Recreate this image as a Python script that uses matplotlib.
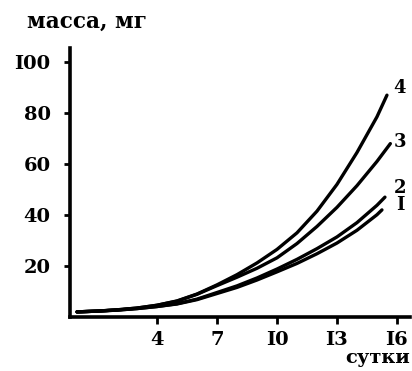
import matplotlib
matplotlib.use("Agg")
import matplotlib.pyplot as plt

days = [0, 1, 2, 3, 4, 5, 6, 7, 8, 9, 10, 11, 12, 13, 14, 15]
c4 = [2, 2.3, 2.8, 3.5, 4.6, 6.3, 9.0, 12.6, 16.6, 21.2, 26.5, 33, 41.5, 52, 64.5, 78.5]
c3 = [2, 2.3, 2.8, 3.5, 4.6, 6.2, 8.9, 12.3, 15.6, 19.1, 23.2, 28.8, 35.5, 43, 51.5, 61]
c2 = [2, 2.3, 2.7, 3.3, 4.1, 5.2, 7.0, 9.6, 12.2, 15.3, 18.8, 22.6, 26.8, 31.4, 37.0, 43.8]
c1 = [2, 2.3, 2.7, 3.3, 4.1, 5.1, 6.8, 9.2, 11.6, 14.5, 17.7, 21, 24.8, 29.0, 34.0, 40.1]
end_days = [15.5, 15.67, 15.4, 15.25]
end_vals = [87, 68, 47, 42]
curve_labels = ["4", "3", "2", "I"]
xticks = [4, 7, 10, 13, 16]
xtick_labels = ["4", "7", "I0", "I3", "I6"]
yticks = [20, 40, 60, 80, 100]
ytick_labels = ["20", "40", "60", "80", "I00"]

font = "DejaVu Serif"

fig = plt.figure(figsize=(4.12, 3.71), dpi=100)
ax = fig.add_axes([0.170, 0.1456, 0.825, 0.725])

series = [c4, c3, c2, c1]
label_dy = [3, 0.7, 3.6, 2]
for s, ed, ev, lab, dy in zip(series, end_days, end_vals, curve_labels, label_dy):
    ax.plot(days + [ed], s + [ev], color="black", lw=2.4, solid_capstyle="round",
            solid_joinstyle="round")
    ax.text(16.15, ev + dy, lab, fontfamily=font, fontweight="bold",
            fontsize=13, ha="center", va="center")

ax.set_xlim(-0.35, 16.65)
ax.set_ylim(0, 105.5)
for sp in ["top", "right"]:
    ax.spines[sp].set_visible(False)
for sp in ["left", "bottom"]:
    ax.spines[sp].set_linewidth(2.6)

ax.set_xticks(xticks)
ax.set_xticklabels(xtick_labels, fontfamily=font, fontweight="bold", fontsize=14)
ax.set_yticks(yticks)
ax.set_yticklabels(ytick_labels, fontfamily=font, fontweight="bold", fontsize=14)
ax.tick_params(axis="x", direction="out", length=5, width=2, pad=5)
ax.tick_params(axis="y", direction="out", length=4, width=2, pad=10)

fig.text(0.065, 0.94, "масса, мг", fontfamily=font, fontweight="bold", fontsize=15.5,
         ha="left", va="center")
fig.text(0.995, 0.035, "сутки", fontfamily=font, fontweight="bold", fontsize=14,
         ha="right", va="center")

fig.savefig("out.png", dpi=100)
